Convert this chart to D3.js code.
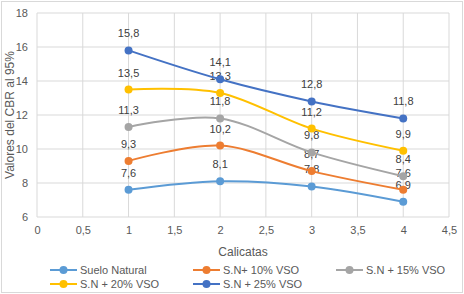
<!DOCTYPE html>
<html>
<head>
<meta charset="utf-8">
<script src="https://cdn.jsdelivr.net/npm/d3@7"></script>
<style>
  body { margin: 0; background: #fff; }
  svg { font-family: "Liberation Sans", Arial, sans-serif; }
</style>
</head>
<body>
<svg id="chart" width="464" height="294"></svg>
<script>
// data
const calicatas = [1, 2, 3, 4];
const seriesNames = ['Suelo Natural', 'S.N+ 10% VSO', 'S.N + 15% VSO', 'S.N + 20% VSO', 'S.N + 25% VSO'];
const sueloNatural = [7.6, 8.1, 7.8, 6.9];
const sn10 = [9.3, 10.2, 8.7, 7.6];
const sn15 = [11.3, 11.8, 9.8, 8.4];
const sn20 = [13.5, 13.3, 11.2, 9.9];
const sn25 = [15.8, 14.1, 12.8, 11.8];
const xTicks = [0, 0.5, 1, 1.5, 2, 2.5, 3, 3.5, 4, 4.5];
const yTicks = [6, 8, 10, 12, 14, 16, 18];
const colors = ['#5B9BD5', '#ED7D31', '#A5A5A5', '#FFC000', '#4472C4'];

const allValues = [sueloNatural, sn10, sn15, sn20, sn25];
const series = seriesNames.map((name, i) => ({
    name: name,
    color: colors[i],
    points: calicatas.map((c, j) => ({x: c, y: allValues[i][j]}))
}));

const svg = d3.select('#chart');
const margin = {left: 37, right: 15, top: 13, bottom: 77};
const W = 464, H = 294;

// outer frame
svg.append('rect')
    .attr('x', 1.5).attr('y', 1.5)
    .attr('width', W - 3).attr('height', H - 3)
    .attr('fill', '#fff').attr('stroke', '#d9d9d9');

const x = d3.scaleLinear().domain([0, 4.5]).range([margin.left, W - margin.right]);
const y = d3.scaleLinear().domain([6, 18]).range([H - margin.bottom, margin.top]);

// grid
svg.append('g').selectAll('line.h')
    .data(yTicks).enter().append('line')
    .attr('x1', x(0)).attr('x2', x(4.5))
    .attr('y1', d => y(d)).attr('y2', d => y(d))
    .attr('stroke', '#d9d9d9').attr('stroke-width', 1);
svg.append('g').selectAll('line.v')
    .data(xTicks).enter().append('line')
    .attr('x1', d => x(d)).attr('x2', d => x(d))
    .attr('y1', y(6)).attr('y2', y(18))
    .attr('stroke', '#d9d9d9').attr('stroke-width', 1);

// axes (labels only)
const xAxis = svg.append('g')
    .attr('transform', 'translate(0,' + y(6) + ')')
    .call(d3.axisBottom(x).tickValues(xTicks).tickSize(0).tickPadding(9)
        .tickFormat(d => String(d).replace('.', ',')));
const yAxis = svg.append('g')
    .attr('transform', 'translate(' + x(0) + ',0)')
    .call(d3.axisLeft(y).tickValues(yTicks).tickSize(0).tickPadding(9));
[xAxis, yAxis].forEach(a => {
    a.select('.domain').remove();
    a.selectAll('text').attr('fill', '#595959').style('font-size', '11px')
        .style('font-family', '"Liberation Sans", Arial, sans-serif');
});

// axis titles
svg.append('text')
    .attr('x', (x(0) + x(4.5)) / 2).attr('y', 256)
    .attr('text-anchor', 'middle').attr('fill', '#595959')
    .style('font-size', '12px').text('Calicatas');
svg.append('text')
    .attr('transform', 'translate(14,' + ((y(6) + y(18)) / 2) + ') rotate(-90)')
    .attr('text-anchor', 'middle').attr('fill', '#595959')
    .style('font-size', '12px').text('Valores del CBR al 95%');

// lines
const line = d3.line()
    .x(d => x(d.x)).y(d => y(d.y))
    .curve(d3.curveCatmullRom.alpha(0));

const sg = svg.append('g').selectAll('g.series')
    .data(series).enter().append('g');

sg.append('path')
    .attr('d', d => line(d.points))
    .attr('fill', 'none')
    .attr('stroke', d => d.color)
    .attr('stroke-width', 2);

sg.selectAll('circle')
    .data(d => d.points.map(p => ({p: p, color: d.color})))
    .enter().append('circle')
    .attr('cx', d => x(d.p.x)).attr('cy', d => y(d.p.y))
    .attr('r', 4)
    .attr('fill', d => d.color);

// data labels
sg.selectAll('text.lbl')
    .data(d => d.points)
    .enter().append('text')
    .attr('x', d => x(d.x)).attr('y', d => y(d.y) - 13)
    .attr('text-anchor', 'middle').attr('fill', '#404040')
    .style('font-size', '11px')
    .text(d => String(d.y).replace('.', ','));

// legend
const legendPos = [[50, 270], [193, 270], [336, 270], [50, 284], [193, 284]];
const legend = svg.append('g').selectAll('g.leg')
    .data(series).enter().append('g')
    .attr('transform', (d, i) => 'translate(' + legendPos[i][0] + ',' + legendPos[i][1] + ')');
legend.append('line')
    .attr('x1', 0).attr('x2', 27).attr('y1', 0).attr('y2', 0)
    .attr('stroke', d => d.color).attr('stroke-width', 2);
legend.append('circle')
    .attr('cx', 13.5).attr('cy', 0).attr('r', 4).attr('fill', d => d.color);
legend.append('text')
    .attr('x', 30).attr('y', 4)
    .attr('fill', '#595959').style('font-size', '11px')
    .text(d => d.name);
</script>
</body>
</html>
